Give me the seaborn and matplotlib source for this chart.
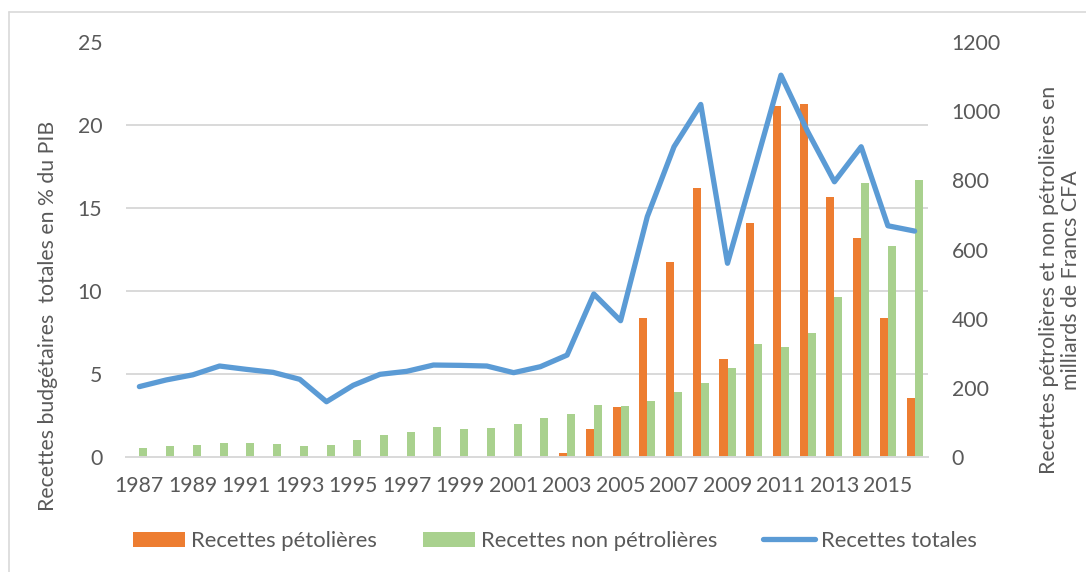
import numpy as np
import pandas as pd
import matplotlib
matplotlib.use("Agg")
import matplotlib.pyplot as plt
from matplotlib.lines import Line2D
from matplotlib.patches import Patch
import seaborn as sns

years = list(range(1987, 2017))
total_pct_pib = [4.24, 4.64, 4.95, 5.48, 5.28, 5.10, 4.68, 3.33, 4.32, 4.98,
                 5.16, 5.54, 5.52, 5.48, 5.08, 5.44, 6.14, 9.82, 8.21, 14.48,
                 18.69, 21.24, 11.67, 17.3, 23.0, 19.6, 16.58, 18.69, 13.93, 13.61]
petrol = [0, 0, 0, 0, 0, 0, 0, 0, 0, 0,
          0, 0, 0, 0, 0, 0, 11, 80, 145, 403,
          563, 777, 283, 676, 1016, 1020, 751, 632, 402, 170]
non_petrol = [27, 33, 36, 40, 40, 38, 33, 36, 48, 63,
              71, 87, 82, 84, 95, 112, 124, 150, 147, 163,
              189, 213, 258, 326, 317, 358, 464, 793, 611, 800]
series_names = ["Recettes pétolières", "Recettes non pétrolières", "Recettes totales"]
left_label = "Recettes budgétaires  totales en % du PIB"
right_label = "Recettes pétrolières et non pétrolières en\nmilliards de Francs CFA"

C_OR = "#ed7d31"
C_GR = "#a9d18e"
C_BL = "#5b9bd5"
C_TXT = "#595959"
C_GRID = "#d9d9d9"

sns.set_theme(style="white")
plt.rcParams["font.family"] = ["Lato", "DejaVu Sans"]
FS = 15.3
FS_LEG = 15.8

W, H = 1086, 572
fig = plt.figure(figsize=(W / 100, H / 100), dpi=100)
ax = fig.add_axes([126 / W, 1 - 457 / H, (928 - 126) / W, (457 - 42) / H])
ax2 = ax.twinx()

bars = pd.DataFrame({
    "year": [str(y) for y in years] * 2,
    "value": petrol + non_petrol,
    "serie": [series_names[0]] * len(years) + [series_names[1]] * len(years),
})
sns.barplot(data=bars, x="year", y="value", hue="serie", ax=ax2,
            palette=[C_OR, C_GR], width=0.6, saturation=1, legend=False,
            linewidth=0, errorbar=None)

line_df = pd.DataFrame({"pos": np.arange(len(years)), "pct": total_pct_pib})
sns.lineplot(data=line_df, x="pos", y="pct", ax=ax, color=C_BL, linewidth=3.8,
             solid_capstyle="round", solid_joinstyle="round")

ax.set_zorder(2)
ax2.set_zorder(1)
ax.patch.set_visible(False)

ax.set_xlim(-0.5, len(years) - 0.5)
ax.set_ylim(0, 25)
ax2.set_ylim(0, 1200)
ax.set_yticks(np.arange(0, 26, 5))
ax2.set_yticks(np.arange(0, 1201, 200))
ax2.set_yticks(np.arange(0, 1201, 240), minor=True)
ax2.grid(which="minor", axis="y", color=C_GRID, linewidth=1.4)
ax2.grid(which="major", visible=False)
ax.grid(False)
ax2.set_axisbelow(True)

tick_pos = list(range(0, len(years), 2))
ax.set_xticks(tick_pos)
ax.set_xticklabels([str(years[i]) for i in tick_pos])

for a in (ax, ax2):
    for s in a.spines.values():
        s.set_visible(False)
    a.set_xlabel("")
    a.set_ylabel("")
ax2.spines["bottom"].set_visible(True)
ax2.spines["bottom"].set_color(C_GRID)
ax2.spines["bottom"].set_linewidth(1.4)

ax.tick_params(axis="y", length=0, pad=17, labelsize=FS, labelcolor=C_TXT)
ax.tick_params(axis="x", length=0, pad=14, labelsize=FS, labelcolor=C_TXT)
ax2.tick_params(axis="y", which="both", length=0, pad=17, labelsize=FS, labelcolor=C_TXT)

fig.text(48 / W, 1 - 316 / H, left_label, rotation=90, ha="center", va="center",
         fontsize=FS, color=C_TXT)
fig.text(1060 / W, 1 - 280 / H, right_label, rotation=90, ha="center", va="center",
         fontsize=FS, color=C_TXT, linespacing=1.1)

handles = [Patch(facecolor=C_OR, edgecolor="none"),
           Patch(facecolor=C_GR, edgecolor="none"),
           Line2D([0], [0], color=C_BL, linewidth=3.8, solid_capstyle="round")]
fig.legend(handles, series_names, loc="center", bbox_to_anchor=(555 / W, 1 - 541 / H),
           ncol=3, frameon=False, fontsize=FS_LEG, labelcolor=C_TXT,
           handlelength=2.37, handleheight=0.65, handletextpad=0.27, columnspacing=2.1)

# chart border (light gray, cut by the image edges)
fig.add_artist(Line2D([9 / W, 9 / W], [0, 1 - 12 / H], color=C_GRID, linewidth=1.2,
                      transform=fig.transFigure))
fig.add_artist(Line2D([9 / W, 1], [1 - 12 / H, 1 - 12 / H], color=C_GRID, linewidth=1.2,
                      transform=fig.transFigure))

fig.savefig("out.png", dpi=100, facecolor="white")
